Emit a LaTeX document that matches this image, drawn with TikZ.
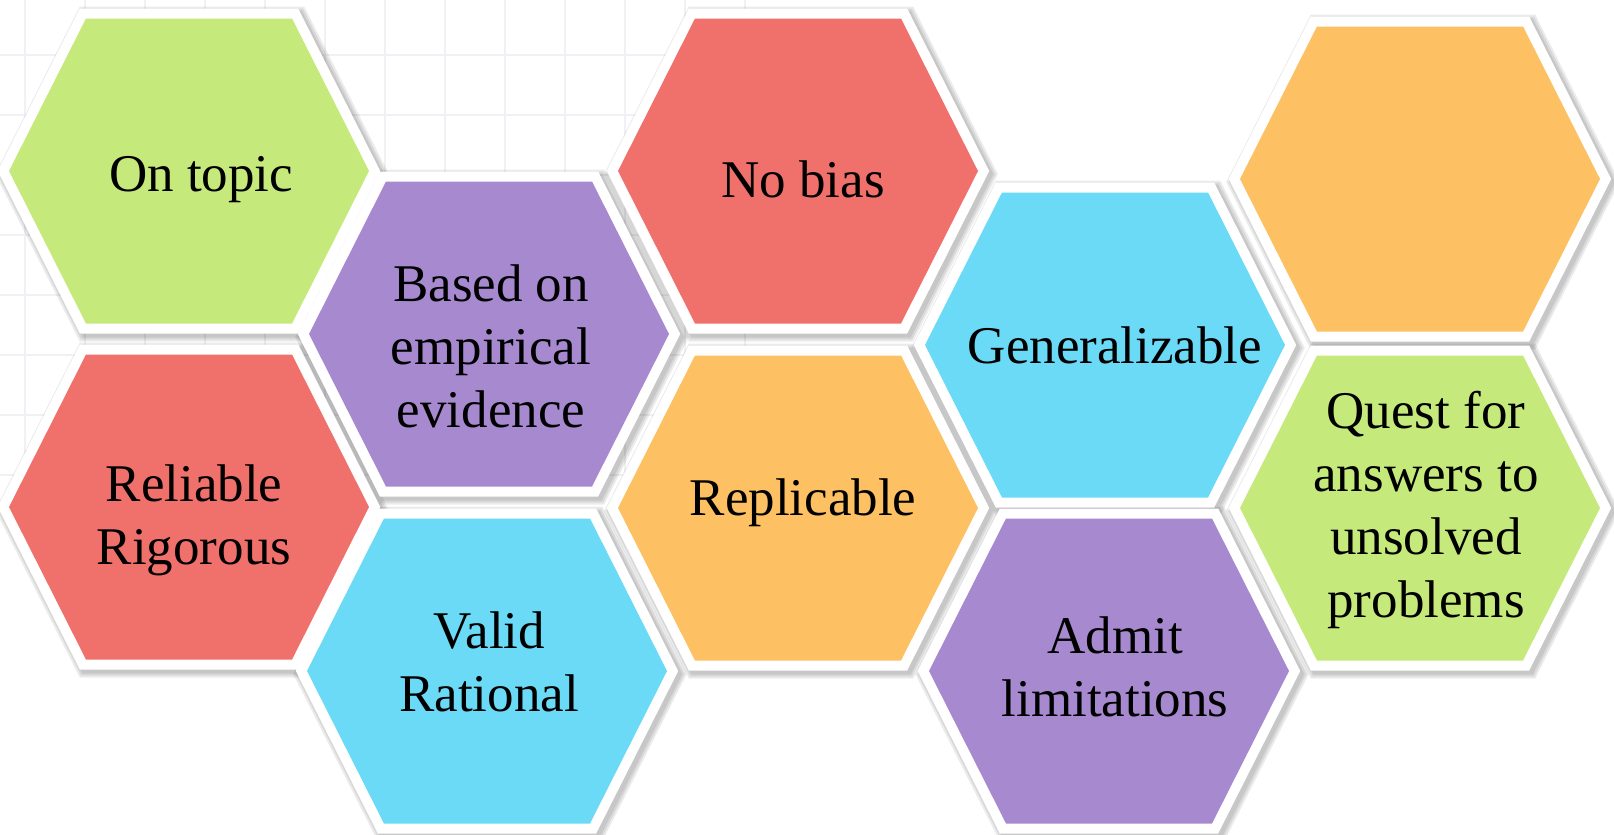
\documentclass[tikz,border=0pt]{standalone}
\usepackage{fontspec}
\setmainfont{Liberation Serif}
\definecolor{hexgreen}{HTML}{C6E97C}
\definecolor{hexpurple}{HTML}{A789CF}
\definecolor{hexred}{HTML}{F0706B}
\definecolor{hexcyan}{HTML}{6BDAF6}
\definecolor{hexorange}{HTML}{FDC063}
\definecolor{gridline}{HTML}{F0F0F5}
\tikzset{
  pics/hexa/.style={code={
    \path[pic actions] (-180,0)--(-103,-152.5)--(103,-152.5)--(180,0)--(103,152.5)--(-103,152.5)--cycle;
  }},
  hexshadow/.style={draw=black, opacity=.08, line join=miter},
  hexborder/.style={draw=white, line width=20pt, line join=miter},
  hexlabel/.style={align=center, inner sep=0pt, font=\fontsize{53}{63}\selectfont},
}

\begin{document}
\begin{tikzpicture}[x=1pt,y=-1pt]
    \useasboundingbox (0,0) rectangle (1614,835);
    \fill[white] (0,0) rectangle (1614,835);
    \begin{scope}[gridline, line width=1.5pt]
      \foreach \gx in {25,85,...,745}
        \draw (\gx,0) -- (\gx,490);
      \foreach \gy in {55,115,...,475}
        \draw (0,\gy) -- (750,\gy);
    \end{scope}
    \foreach \cx/\cy in {189/171,489/334,798/171,1105/345,1420/179,189/507,487/671,798/508,1109/671,1420/508}{
      \foreach \w in {22,26,30}
        \pic[hexshadow, line width=\w pt] at (\cx+3,\cy+3) {hexa};
    }
    \foreach \cx/\cy/\col in {189/171/hexgreen,489/334/hexpurple,798/171/hexred,1105/345/hexcyan,1420/179/hexorange,189/507/hexred,487/671/hexcyan,798/508/hexorange,1109/671/hexpurple,1420/508/hexgreen}{
      \pic[hexborder] at (\cx,\cy) {hexa};
      \pic[fill=\col] at (\cx,\cy) {hexa};
    }
    \node[hexlabel] (ontopic) at (201,180) {On topic};
    \node[hexlabel] (empirical) at (491,346) {Based on\\empirical\\evidence};
    \node[hexlabel] (nobias) at (803,179) {No bias};
    \node[hexlabel] (general) at (1115,345) {Generalizable};
    \node[hexlabel] (reliable) at (194,520) {Reliable\\Rigorous};
    \node[hexlabel] (valid) at (489,662) {Valid\\Rational};
    \node[hexlabel] (replicable) at (803,503) {Replicable};
    \node[hexlabel] (admit) at (1115,667) {Admit\\limitations};
    \node[hexlabel] (quest) at (1426,510) {Quest for\\answers to\\unsolved\\problems};
\end{tikzpicture}
\end{document}
